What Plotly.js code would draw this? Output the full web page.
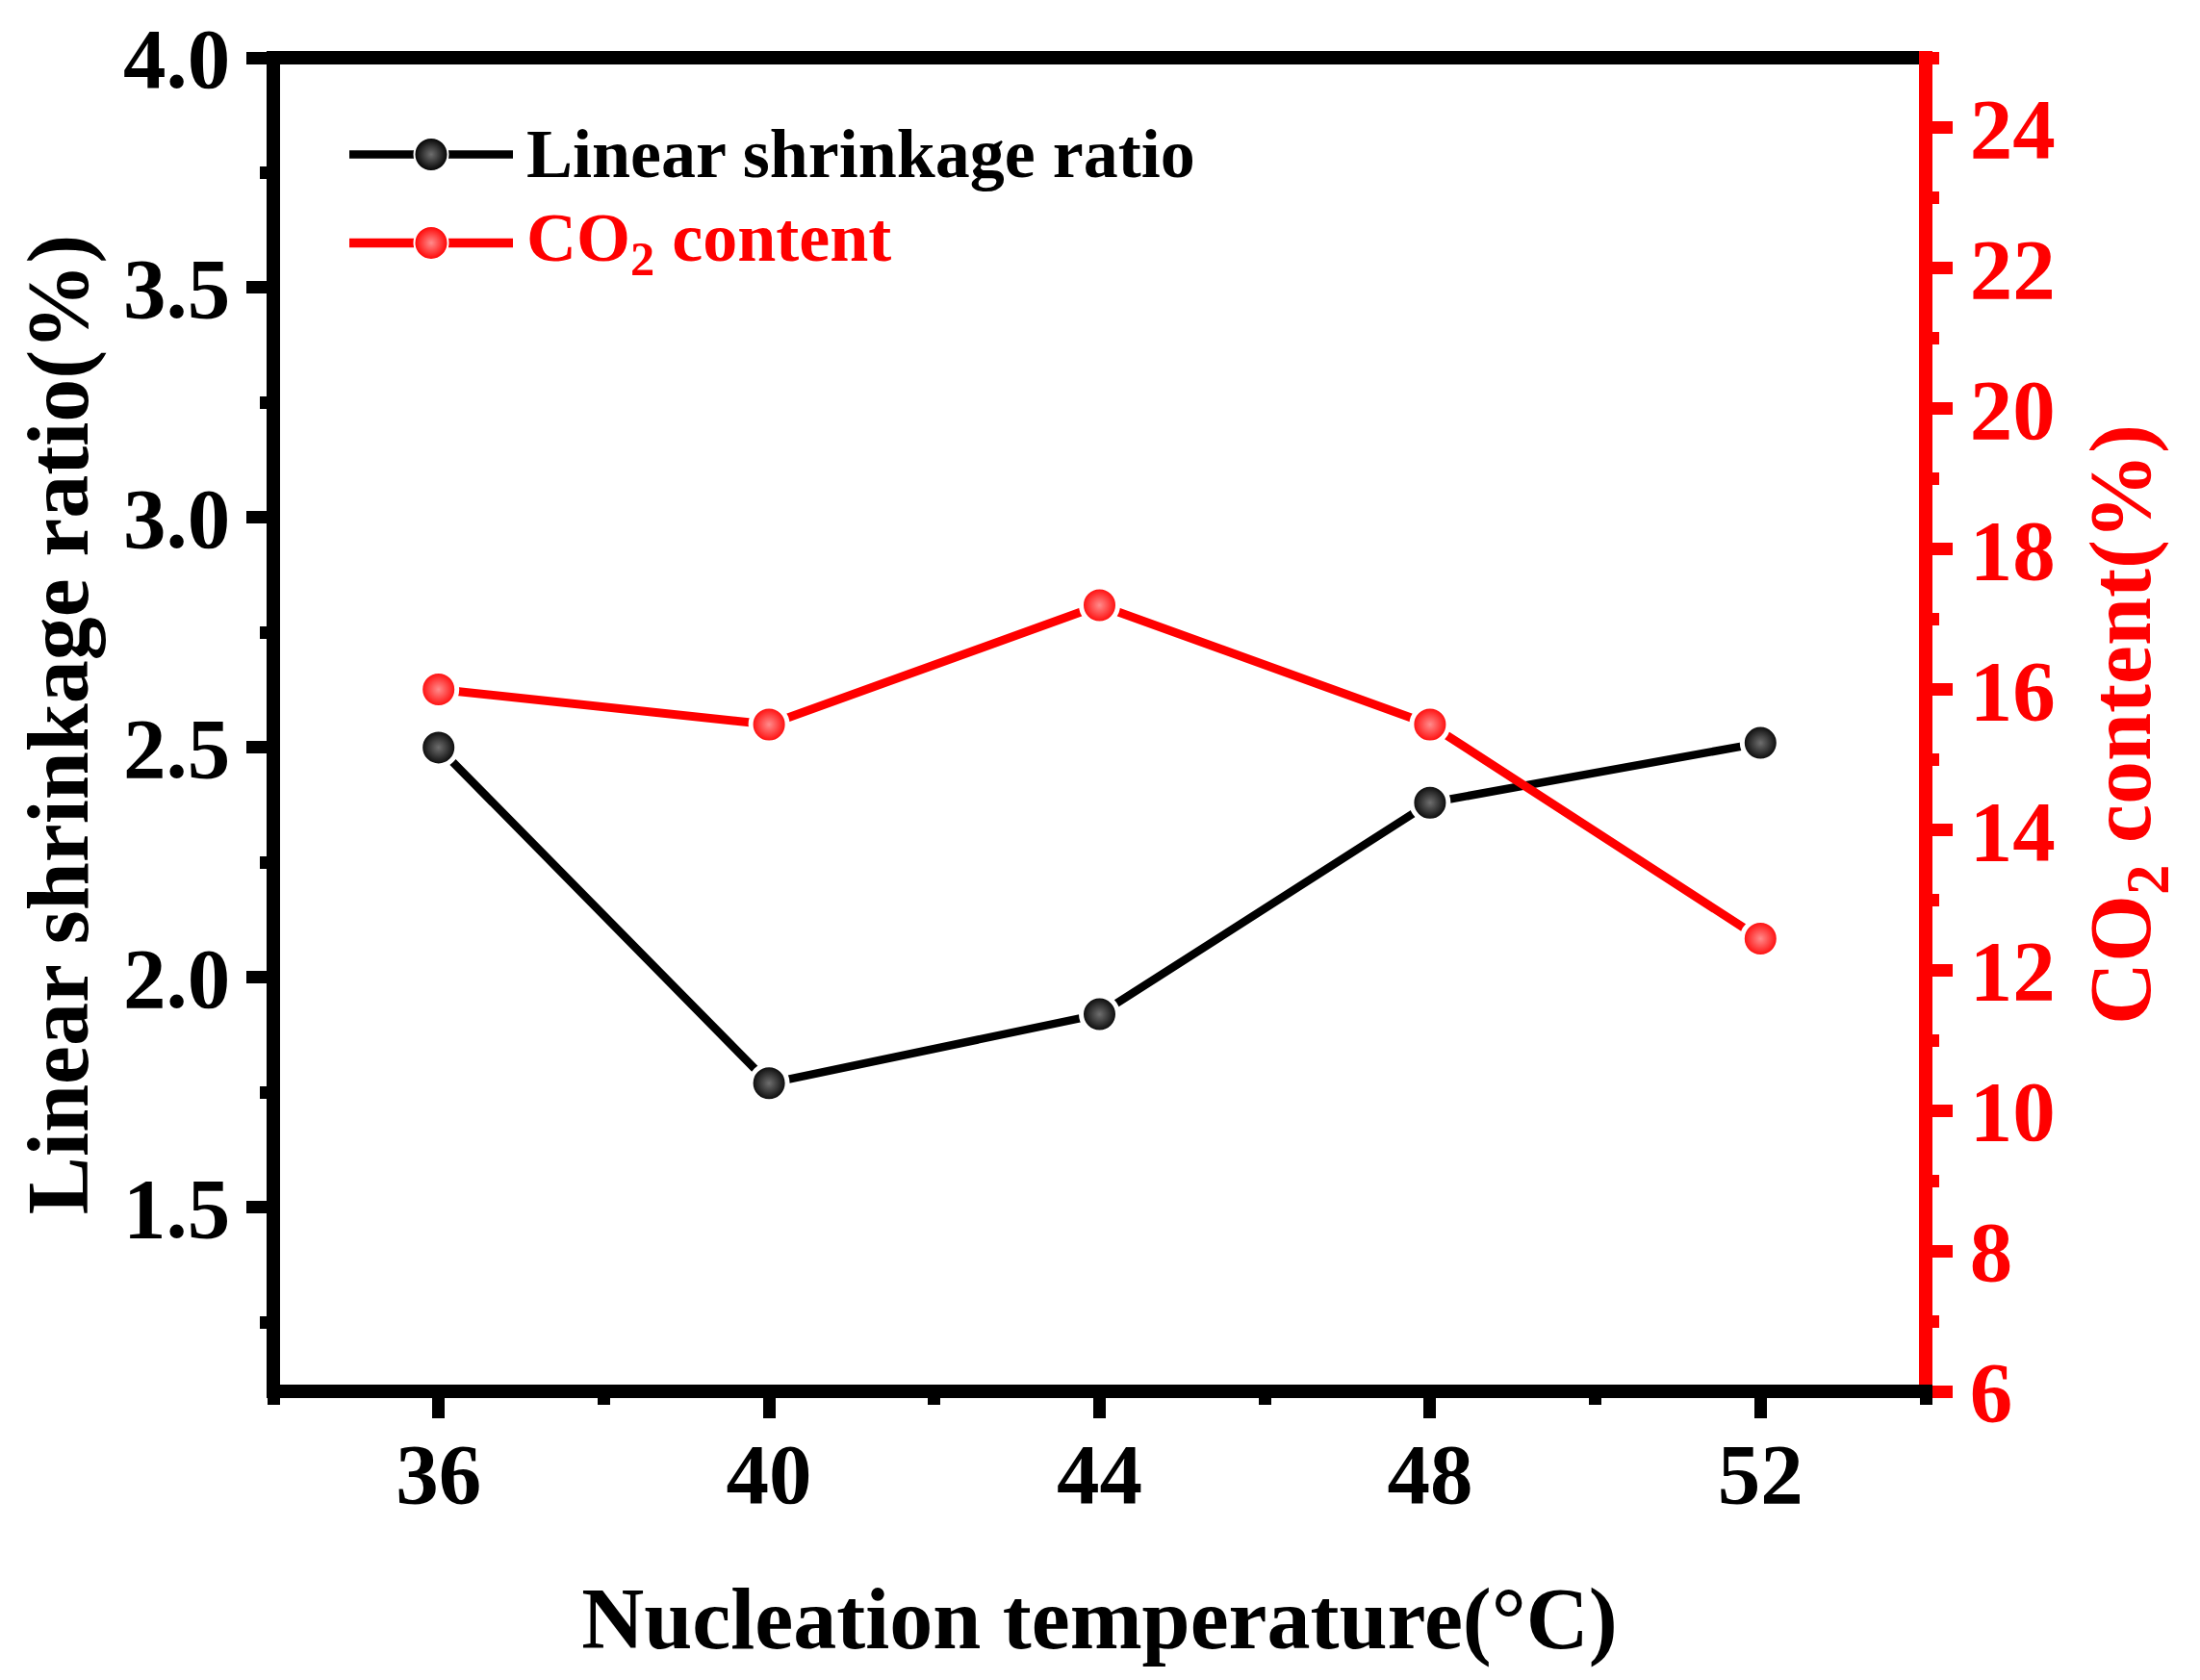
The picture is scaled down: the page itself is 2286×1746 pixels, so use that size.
<!DOCTYPE html>
<html>
<head>
<meta charset="utf-8">
<script src="https://cdn.plot.ly/plotly-3.0.1.min.js"></script>
<style>
  html, body { margin: 0; padding: 0; background: #fff; }
  #chart { width: 2286px; height: 1746px; }
</style>
</head>
<body>
<div id="chart"></div>
<script>
// nucleation temperature (°C)
var temps = [36, 40, 44, 48, 52];
// linear shrinkage ratio (%), left axis
var shrinkage = [2.50, 1.77, 1.92, 2.38, 2.51];
// CO2 content (%), right axis
var co2Content = [16.0, 15.5, 17.2, 15.5, 12.45];

var seriesNames = ['Linear shrinkage ratio', 'CO<sub>2</sub> content'];
var seriesColors = ['#000000', '#ff0000'];
var highlightColors = ['#6e6e6e', '#ff8c8c'];

var fontFamily = 'Liberation Serif, Times New Roman, serif';

// plot box (line centres) in px
var box = { l: 284, r: 285, t: 59.5, b: 300 };
var plotW = 2286 - box.l - box.r;
var plotH = 1746 - box.t - box.b;
var frameW = 14;

var shrinkTrace = {
  name: seriesNames[0],
  x: temps,
  y: shrinkage,
  mode: 'lines+markers',
  type: 'scatter',
  line: { color: seriesColors[0], width: 8.5 },
  marker: {
    size: 38,
    color: seriesColors[0],
    gradient: { type: 'radial', color: highlightColors[0] },
    line: { color: '#ffffff', width: 5 },
  },
  showlegend: false,
};

var co2Trace = {
  name: seriesNames[1],
  x: temps,
  y: co2Content,
  yaxis: 'y2',
  mode: 'lines+markers',
  type: 'scatter',
  line: { color: seriesColors[1], width: 9 },
  marker: {
    size: 38,
    color: seriesColors[1],
    gradient: { type: 'radial', color: highlightColors[1] },
    line: { color: '#ffffff', width: 5 },
  },
  showlegend: false,
};

// hand made legend on a hidden 0..1 axis pair
var legendLeft = (363 - box.l) / plotW;
var legendRight = (533 - box.l) / plotW;
var legendRows = [(box.t + plotH - 160) / plotH, (box.t + plotH - 252) / plotH];
var legendTextX = (545 - box.l) / plotW;

var legendTraces = [];
var legendNotes = [];
seriesNames.forEach(function(name, i) {
  legendTraces.push({
    x: [legendLeft, legendRight],
    y: [legendRows[i], legendRows[i]],
    xaxis: 'x3',
    yaxis: 'y3',
    mode: 'lines',
    type: 'scatter',
    line: { color: seriesColors[i], width: i === 0 ? 8.5 : 9.5 },
    showlegend: false,
    hoverinfo: 'skip',
  });
  legendTraces.push({
    x: [(legendLeft + legendRight) / 2],
    y: [legendRows[i]],
    xaxis: 'x3',
    yaxis: 'y3',
    mode: 'markers',
    type: 'scatter',
    marker: {
      size: 35,
      color: seriesColors[i],
      gradient: { type: 'radial', color: highlightColors[i] },
      line: { color: '#ffffff', width: 2 },
    },
    showlegend: false,
    hoverinfo: 'skip',
  });
  legendNotes.push({
    xref: 'paper',
    yref: 'paper',
    x: legendTextX,
    y: legendRows[i],
    xanchor: 'left',
    yanchor: 'middle',
    showarrow: false,
    text: name,
    font: { family: fontFamily, size: 72, weight: 'bold', color: seriesColors[i] },
  });
});

var data = [shrinkTrace, co2Trace].concat(legendTraces);

var tickFont = { family: fontFamily, size: 89, weight: 'bold', color: '#000' };
var titleFont = { family: fontFamily, size: 90, weight: 'bold', color: '#000' };

var layout = {
  width: 2286,
  height: 1746,
  margin: { l: box.l, r: box.r, t: box.t, b: box.b, pad: 0 },
  paper_bgcolor: '#ffffff',
  plot_bgcolor: '#ffffff',
  showlegend: false,
  hovermode: false,
  xaxis: {
    range: [34, 54],
    tick0: 36,
    dtick: 4,
    ticks: 'outside',
    ticklen: 27,
    tickwidth: 13,
    tickcolor: '#000',
    minor: { tick0: 34, dtick: 2, ticks: 'outside', ticklen: 13, tickwidth: 13, tickcolor: '#000' },
    showgrid: false,
    zeroline: false,
    showline: false,
    tickfont: tickFont,
    ticklabelstandoff: -19,
    title: { text: 'Nucleation temperature(°C)', font: titleFont, standoff: 70 },
    automargin: false,
  },
  yaxis: {
    range: [1.1, 4.0],
    tick0: 1.5,
    dtick: 0.5,
    tickformat: '.1f',
    ticks: 'outside',
    ticklen: 27,
    tickwidth: 13,
    tickcolor: '#000',
    minor: { tick0: 1.25, dtick: 0.25, ticks: 'outside', ticklen: 13, tickwidth: 13, tickcolor: '#000' },
    showgrid: false,
    zeroline: false,
    showline: false,
    tickfont: tickFont,
    ticklabelstandoff: -1,
    title: { text: 'Linear shrinkage ratio(%)', font: titleFont, standoff: 6 },
    automargin: false,
  },
  yaxis2: {
    overlaying: 'y',
    side: 'right',
    range: [6, 25],
    tick0: 6,
    dtick: 2,
    ticks: 'outside',
    ticklen: 27,
    tickwidth: 13,
    tickcolor: '#ff0000',
    minor: { tick0: 6, dtick: 1, ticks: 'outside', ticklen: 13, tickwidth: 13, tickcolor: '#ff0000' },
    showgrid: false,
    zeroline: false,
    showline: false,
    tickfont: { family: fontFamily, size: 89, weight: 'bold', color: '#ff0000' },
    ticklabelstandoff: 0,
    title: { text: 'CO<sub>2</sub> content(%)', font: { family: fontFamily, size: 90, weight: 'bold', color: '#ff0000' }, standoff: 36 },
    automargin: false,
  },
  xaxis3: { overlaying: 'x', anchor: 'y3', range: [0, 1], visible: false, fixedrange: true },
  yaxis3: { overlaying: 'y', anchor: 'x3', range: [0, 1], visible: false, fixedrange: true },
  annotations: legendNotes,
  shapes: [
    {
      type: 'rect', xref: 'paper', yref: 'paper',
      x0: 0, x1: 1, y0: 0, y1: 1,
      line: { color: '#000000', width: frameW },
    },
    {
      type: 'line', xref: 'paper', yref: 'paper',
      x0: 1, x1: 1, y0: (frameW / 2) / plotH, y1: 1 + (frameW / 2) / plotH,
      line: { color: '#ff0000', width: frameW },
    },
  ],
};

Plotly.newPlot('chart', data, layout, { staticPlot: true, displayModeBar: false });
</script>
</body>
</html>
